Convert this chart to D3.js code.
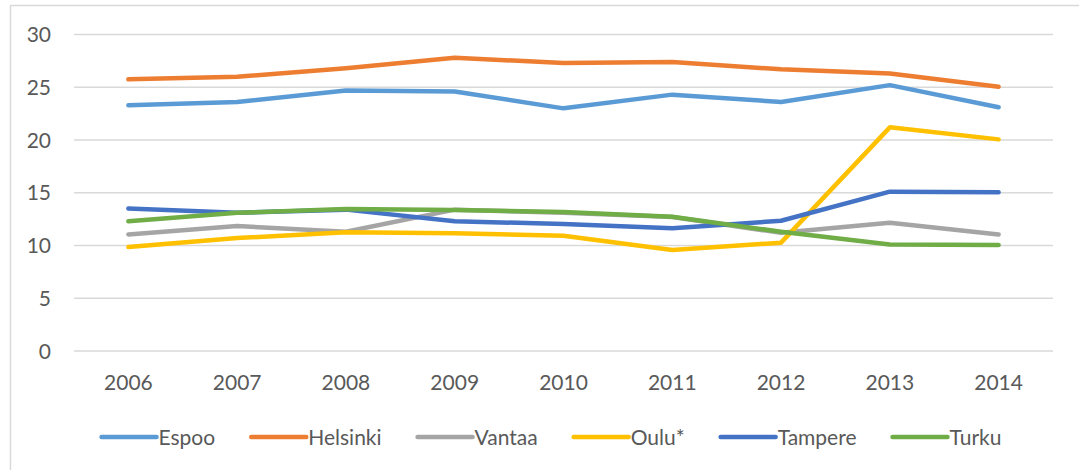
<!DOCTYPE html>
<html>
<head>
<meta charset="utf-8">
<script src="https://cdn.jsdelivr.net/npm/d3@7"></script>
<style>
  body { margin: 0; background: #fff; }
  svg { display: block; font-family: Lato, "Liberation Sans", sans-serif; }
</style>
</head>
<body>
<svg width="1079" height="470"></svg>
<script>
const years = ["2006", "2007", "2008", "2009", "2010", "2011", "2012", "2013", "2014"];
const cities = ["Espoo", "Helsinki", "Vantaa", "Oulu*", "Tampere", "Turku"];
const colors = ["#5B9BD5", "#ED7D31", "#A5A5A5", "#FFC000", "#4472C4", "#70AD47"];

const espoo    = [23.3, 23.6, 24.7, 24.6, 23.0, 24.3, 23.6, 25.2, 23.1];
const helsinki = [25.75, 26.0, 26.8, 27.8, 27.3, 27.4, 26.7, 26.3, 25.05];
const vantaa   = [11.05, 11.85, 11.3, 13.4, 13.1, 12.7, 11.2, 12.15, 11.05];
const oulu     = [9.85, 10.7, 11.25, 11.15, 10.93, 9.57, 10.27, 21.2, 20.06];
const tampere  = [13.5, 13.1, 13.4, 12.3, 12.04, 11.63, 12.35, 15.1, 15.04];
const turku    = [12.3, 13.1, 13.45, 13.36, 13.17, 12.73, 11.3, 10.1, 10.05];

const yTicks = [0, 5, 10, 15, 20, 25, 30];

const seriesValues = [espoo, helsinki, vantaa, oulu, tampere, turku];

const svg = d3.select("svg");
const width = +svg.attr("width");
const height = +svg.attr("height");

const plotLeft = 74, plotRight = 1053, plotTop = 34.5, plotBottom = 351;

// chart frame
svg.append("rect")
    .attr("x", 10.5).attr("y", 5.5)
    .attr("width", width).attr("height", height)
    .attr("fill", "none")
    .attr("stroke", "#d9d9d9")
    .attr("stroke-width", 1.5);

const x = d3.scaleBand().domain(years).range([plotLeft, plotRight]);
const y = d3.scaleLinear().domain([0, 30]).range([plotBottom, plotTop]);

// gridlines
svg.append("g")
  .selectAll("line").data(yTicks)
  .enter().append("line")
    .attr("x1", plotLeft).attr("x2", plotRight)
    .attr("y1", d => y(d)).attr("y2", d => y(d))
    .attr("stroke", "#d9d9d9")
    .attr("stroke-width", 1.5);

// y axis labels
svg.append("g")
  .selectAll("text").data(yTicks)
  .enter().append("text")
    .attr("x", 51)
    .attr("y", d => y(d))
    .attr("dy", "0.36em")
    .attr("text-anchor", "end")
    .attr("font-size", 21)
    .attr("fill", "#595959")
    .text(d => d);

// x axis labels
svg.append("g")
  .selectAll("text").data(years)
  .enter().append("text")
    .attr("x", d => x(d) + x.bandwidth() / 2)
    .attr("y", 390)
    .attr("text-anchor", "middle")
    .attr("font-size", 21)
    .attr("fill", "#595959")
    .text(d => d);

const line = d3.line()
    .x((d, i) => x(years[i]) + x.bandwidth() / 2)
    .y(d => y(d));

svg.append("g")
  .selectAll("path").data(seriesValues)
  .enter().append("path")
    .attr("d", line)
    .attr("fill", "none")
    .attr("stroke", (d, i) => colors[i])
    .attr("stroke-width", 4.5)
    .attr("stroke-linecap", "round")
    .attr("stroke-linejoin", "round");

// legend
const legend = svg.append("g");
const items = legend.selectAll("g").data(cities)
  .enter().append("g");

items.append("line")
    .attr("x1", 0).attr("x2", 55)
    .attr("y1", 0).attr("y2", 0)
    .attr("stroke", (d, i) => colors[i])
    .attr("stroke-width", 4.5)
    .attr("stroke-linecap", "round");

items.append("text")
    .attr("x", 57)
    .attr("dy", "0.36em")
    .attr("font-size", 21)
    .attr("fill", "#595959")
    .text(d => d);

const gap = 36;
let pos = 0;
const offsets = [];
items.each(function () {
  offsets.push(pos);
  pos += this.getBBox().width + gap;
});
pos -= gap;
const legendStart = 551.5 - pos / 2;
items.attr("transform", (d, i) => `translate(${legendStart + offsets[i]}, 437)`);
</script>
</body>
</html>
